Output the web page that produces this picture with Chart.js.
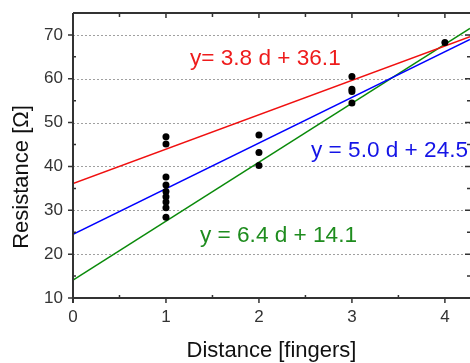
<!DOCTYPE html>
<html>
<head>
<meta charset="utf-8">
<script src="https://cdn.jsdelivr.net/npm/chart.js@4"></script>
<style>
  html, body { margin: 0; padding: 0; background: #fff; overflow: hidden; }
  #wrap { width: 470px; height: 363px; position: relative; }
</style>
</head>
<body>
<div id="wrap"><canvas id="c" width="470" height="363"></canvas></div>
<script>
// ---- data ----
const pointX = [1, 1, 1, 1, 1, 1, 1, 1, 1, 2, 2, 2, 3, 3, 3, 3, 4];
const pointY = [46.8, 45.1, 37.6, 35.8, 34.3, 33.1, 31.9, 30.6, 28.4, 47.2, 43.2, 40.2, 60.5, 57.6, 57.1, 54.5, 68.3];
const fitX = [0, 4.27];
const redFitY = [36.1, 69.6];
const blueFitY = [24.5, 69.0];
const greenFitY = [14.1, 71.5];
const xTicks = [0, 1, 2, 3, 4];
const yTicks = [10, 20, 30, 40, 50, 60, 70];
const equationTexts = ["y= 3.8 d + 36.1", "y = 5.0 d + 24.5", "y = 6.4 d + 14.1"];
const xTitle = "Distance [fingers]";
const yTitle = "Resistance [Ω]";

// ---- styling / placement ----
const RED = "#ee1c1c", BLUE = "#1414e6", GREEN = "#1e8c1e";
const eqColors = [RED, BLUE, GREEN];
const eqAnchors = [[1.258, 63.15], [2.56, 42.2], [1.366, 22.8]];
const FONT = "'Liberation Sans', Arial, sans-serif";

function xy(xs, ys) { return xs.map((x, i) => ({ x: x, y: ys[i] })); }

const framePlugin = {
  id: 'frame',
  beforeDatasetsDraw(chart) {
    const { ctx, chartArea: a, scales: { x, y } } = chart;
    ctx.save();
    ctx.strokeStyle = '#a0a0a0';
    ctx.lineWidth = 1;
    ctx.setLineDash([2, 2]);
    yTicks.forEach(v => {
      if (v === 10) return;
      const py = Math.round(y.getPixelForValue(v)) + 0.5;
      ctx.beginPath(); ctx.moveTo(a.left, py); ctx.lineTo(a.right, py); ctx.stroke();
    });
    ctx.restore();
  },
  afterDraw(chart) {
    const { ctx, chartArea: a, scales: { x, y } } = chart;
    ctx.save();
    ctx.strokeStyle = '#333';
    ctx.lineWidth = 2;
    ctx.setLineDash([]);
    ctx.beginPath();
    ctx.moveTo(a.left, a.top); ctx.lineTo(a.left, a.bottom + 5);
    ctx.moveTo(a.left, a.bottom); ctx.lineTo(a.right, a.bottom);
    ctx.moveTo(a.left, a.top); ctx.lineTo(a.right, a.top);
    ctx.stroke();
    ctx.lineWidth = 1.5;
    ctx.beginPath();
    for (let v = 0; v <= 4.01; v += 0.5) {
      const px = x.getPixelForValue(v);
      const major = Math.abs(v - Math.round(v)) < 1e-6;
      if (major) {
        ctx.moveTo(px, a.bottom); ctx.lineTo(px, a.bottom + 5);
        ctx.moveTo(px, a.top); ctx.lineTo(px, a.top + 5);
      } else {
        ctx.moveTo(px, a.bottom); ctx.lineTo(px, a.bottom - 3);
        ctx.moveTo(px, a.top); ctx.lineTo(px, a.top + 4);
      }
    }
    for (let v = 10; v <= 75; v += 5) {
      const py = y.getPixelForValue(v);
      const major = v % 10 === 0;
      if (major) {
        ctx.moveTo(a.left - 5, py); ctx.lineTo(a.left, py);
        ctx.moveTo(a.right, py); ctx.lineTo(a.right - 5, py);
      } else {
        ctx.moveTo(a.left, py); ctx.lineTo(a.left + 3, py);
        ctx.moveTo(a.right, py); ctx.lineTo(a.right - 3, py);
      }
    }
    ctx.stroke();

    ctx.fillStyle = '#111';
    ctx.font = '22px ' + FONT;
    ctx.textAlign = 'center';
    ctx.textBaseline = 'middle';
    ctx.fillText(xTitle, (a.left + 470) / 2, 351);
    ctx.save();
    ctx.translate(22, 177);
    ctx.rotate(-Math.PI / 2);
    ctx.fillText(yTitle, 0, 0);
    ctx.restore();

    ctx.font = '22.6px ' + FONT;
    ctx.textAlign = 'left';
    ctx.textBaseline = 'alphabetic';
    equationTexts.forEach((t, i) => {
      ctx.fillStyle = eqColors[i];
      ctx.fillText(t, x.getPixelForValue(eqAnchors[i][0]), y.getPixelForValue(eqAnchors[i][1]));
    });
    ctx.restore();
  }
};

new Chart(document.getElementById('c'), {
  type: 'scatter',
  data: {
    datasets: [
      { data: xy(pointX, pointY), showLine: false, pointRadius: 3.5, pointHoverRadius: 3.5,
        backgroundColor: '#000', borderColor: '#000', borderWidth: 0, order: 0 },
      { data: xy(fitX, blueFitY), showLine: true, pointRadius: 0, borderColor: '#0000ff', borderWidth: 1.5, order: 1 },
      { data: xy(fitX, redFitY), showLine: true, pointRadius: 0, borderColor: '#f01010', borderWidth: 1.5, order: 2 },
      { data: xy(fitX, greenFitY), showLine: true, pointRadius: 0, borderColor: '#0a8a0a', borderWidth: 1.5, order: 3 }
    ]
  },
  options: {
    responsive: false,
    animation: false,
    events: [],
    layout: { autoPadding: false, padding: { top: 13, right: 0, left: 0, bottom: 0 } },
    plugins: { legend: { display: false }, tooltip: { enabled: false } },
    scales: {
      x: {
        type: 'linear', min: 0, max: 4.27,
        afterBuildTicks: s => { s.ticks = xTicks.map(v => ({ value: v })); },
        afterFit: s => { s.height = 65; s.paddingLeft = 0; s.paddingRight = 0; },
        grid: { display: false, drawTicks: false },
        border: { display: false },
        ticks: { color: '#333', padding: 9, font: { family: FONT, size: 17 }, maxRotation: 0 }
      },
      y: {
        type: 'linear', min: 10, max: 75,
        afterBuildTicks: s => { s.ticks = yTicks.map(v => ({ value: v })); },
        afterFit: s => { s.width = 73; s.paddingTop = 0; s.paddingBottom = 0; },
        grid: { display: false, drawTicks: false },
        border: { display: false },
        ticks: { color: '#333', padding: 10, font: { family: FONT, size: 17 } }
      }
    }
  },
  plugins: [framePlugin]
});
</script>
</body>
</html>
